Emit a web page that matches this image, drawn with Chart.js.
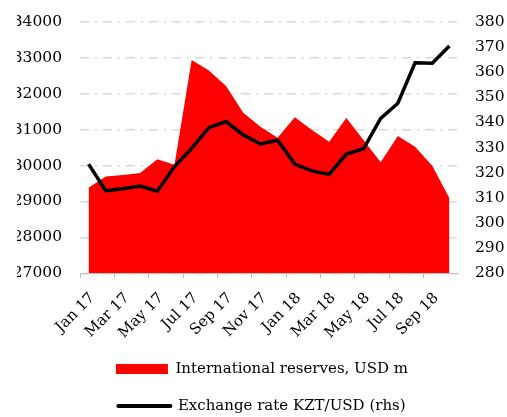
<!DOCTYPE html>
<html>
<head>
<meta charset="utf-8">
<script src="https://cdn.jsdelivr.net/npm/chart.js@4"></script>
<style>
html,body{margin:0;padding:0;background:#fff;}
#wrap{width:507px;height:417px;}
</style>
</head>
<body>
<div id="wrap"><canvas id="c" width="507" height="417"></canvas></div>
<script>
const categories = ["Jan 17","Feb 17","Mar 17","Apr 17","May 17","Jun 17","Jul 17","Aug 17","Sep 17","Oct 17","Nov 17","Dec 17",
  "Jan 18","Feb 18","Mar 18","Apr 18","May 18","Jun 18","Jul 18","Aug 18","Sep 18","Oct 18"];
const reserves = [29380,29690,29735,29790,30170,30020,32935,32640,32210,31470,31080,30770,
  31340,30990,30660,31320,30710,30090,30820,30520,29990,29090];
const exchangeRate = [323.4,312.8,313.6,314.7,312.6,322.4,329.7,337.9,340.3,335.0,331.4,332.9,
  323.4,320.7,319.3,327.4,329.5,341.6,347.6,363.7,363.5,370.3];
const leftTicks = {min:27000,max:34000,step:1000};
const rightTicks = {min:280,max:380,step:10};
const seriesNames = ["International reserves, USD m","Exchange rate KZT/USD (rhs)"];

const FONT = "'DejaVu Serif', serif";
Chart.defaults.font.family = FONT;
Chart.defaults.color = '#000';

const chart = new Chart(document.getElementById('c'), {
  type: 'line',
  data: {
    labels: categories,
    datasets: [
      {
        label: seriesNames[0],
        data: reserves,
        yAxisID: 'y',
        backgroundColor: '#ff0000',
        borderColor: '#ff0000',
        borderWidth: 0,
        pointRadius: 0,
        fill: 'start',
        tension: 0,
        order: 2
      },
      {
        label: seriesNames[1],
        data: exchangeRate,
        yAxisID: 'y1',
        borderColor: '#000000',
        backgroundColor: '#000000',
        borderWidth: 3.5,
        pointRadius: 0,
        fill: false,
        tension: 0,
        order: 1
      }
    ]
  },
  options: {
    responsive: false,
    animation: false,
    layout: { padding: { left: 17, right: 0, top: 21.7, bottom: 0 } },
    plugins: {
      tooltip: { enabled: false },
      legend: {
        position: 'bottom',
        labels: {
          usePointStyle: true,
          pointStyleWidth: 52,
          boxHeight: 10,
          padding: 22,
          font: { size: 15, family: FONT },
          color: '#000',
          generateLabels: function(chart) {
            return [
              { text: seriesNames[0], fillStyle: '#ff0000', strokeStyle: '#ff0000', lineWidth: 0, pointStyle: 'rect', datasetIndex: 0, hidden: false },
              { text: seriesNames[1], fillStyle: '#000000', strokeStyle: '#000000', lineWidth: 4, lineCap: 'round', pointStyle: 'line', datasetIndex: 1, hidden: false }
            ];
          }
        }
      }
    },
    scales: {
      x: {
        type: 'category',
        offset: true,
        grid: {
          offset: true,
          drawOnChartArea: false,
          drawTicks: true,
          tickLength: 5,
          tickWidth: 1,
          tickColor: (ctx) => (ctx.index % 2 === 0 ? '#bfbfbf' : 'rgba(0,0,0,0)')
        },
        border: { display: true, color: '#bfbfbf', width: 1, z: 1 },
        ticks: {
          autoSkip: false,
          maxRotation: 45,
          minRotation: 45,
          padding: 11,
          labelOffset: 4,
          font: { size: 15, family: FONT },
          color: '#000',
          callback: function(v, i) { return i % 2 === 0 ? this.getLabelForValue(v) : ''; }
        },
        afterFit: (s) => { s.height = 66.2; }
      },
      y: {
        position: 'left',
        min: leftTicks.min,
        max: leftTicks.max,
        grid: {
          color: '#d9d9d9',
          lineWidth: 1.5,
          drawTicks: true,
          tickLength: 18,
          tickColor: 'rgba(0,0,0,0)',
          borderDash: [9,6,2,6]
        },
        border: { display: false, dash: [9,6,2,6] },
        ticks: {
          stepSize: leftTicks.step,
          padding: 0,
          font: { size: 15.5, family: FONT },
          color: '#000',
          callback: (v) => String(v)
        },
        afterFit: (s) => { s.width = 63; }
      },
      y1: {
        position: 'right',
        min: rightTicks.min,
        max: rightTicks.max,
        grid: { drawOnChartArea: false, drawTicks: true, tickLength: 17, tickColor: 'rgba(0,0,0,0)' },
        border: { display: false },
        ticks: {
          stepSize: rightTicks.step,
          padding: 0,
          font: { size: 15.5, family: FONT },
          color: '#000',
          callback: (v) => String(v)
        },
        afterFit: (s) => { s.width = 49; }
      }
    }
  }
});
// trim the legend's trailing bottom space so rows sit where the reference has them
const origFit = chart.legend.fit;
chart.legend.fit = function() { origFit.call(this); this.height = this.height - 6.5; };
chart.update();
</script>
</body>
</html>
